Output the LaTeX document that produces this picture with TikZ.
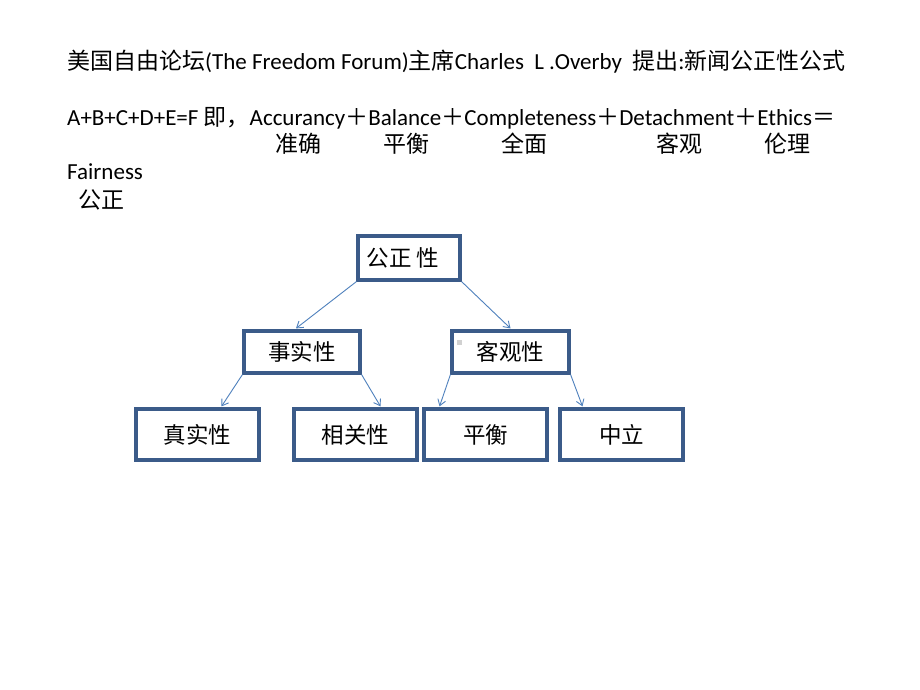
\documentclass[tikz,border=0pt]{standalone}
\usepackage{fontspec}
\setmainfont{Carlito}
\newfontfamily\cjkf{Noto Sans CJK SC}
\newcommand\zh[1]{{\cjkf #1}}
\usetikzlibrary{arrows.meta,calc}
\definecolor{boxline}{HTML}{3B5B89}
\definecolor{arrline}{HTML}{4F81BD}
\tikzset{
  hdr/.style={anchor=west,inner sep=0pt,font=\fontsize{23}{26}\selectfont},
  tbox/.style={draw=boxline,line width=3.2pt,fill=white,inner sep=0pt,
    font=\fontsize{22.5}{25}\selectfont\cjkf},
  arr/.style={draw=arrline,line width=0.9pt,-{Straight Barb[length=6pt,width=8pt]}}
}
\begin{document}
\begin{tikzpicture}[x=1pt,y=-1pt]
\path[use as bounding box,fill=white] (0,0) rectangle (920,690);
\node[hdr] (l1) at (67,62) {\zh{美国自由论坛}(The Freedom Forum)\zh{主席}Charles\ \ L .Overby\ \ \zh{提出}:\zh{新闻公正性公式}};
\node[hdr] (l2) at (67,118) {A+B+C+D+E=F \zh{即，}Accurancy\zh{＋}Balance\zh{＋}Completeness\zh{＋}Detachment\zh{＋}Ethics\zh{＝}};
\node[hdr] (c1) at (275,144) {\zh{准确}};
\node[hdr] (c2) at (383,144) {\zh{平衡}};
\node[hdr] (c3) at (501,144) {\zh{全面}};
\node[hdr] (c4) at (656,144) {\zh{客观}};
\node[hdr] (c5) at (764,144) {\zh{伦理}};
\node[hdr] (l4) at (67,172) {Fairness};
\node[hdr] (l5) at (78,200) {\zh{公正}};

\node[tbox,minimum width=102pt,minimum height=44pt] (top) at (409,258) {\hspace*{-12pt}公正 性};
\node[tbox,minimum width=116pt,minimum height=42pt] (fact) at (302,352) {事实性};
\node[tbox,minimum width=117pt,minimum height=42pt] (obj) at (510.5,352) {客观性};
\node[tbox,minimum width=123pt,minimum height=51pt] (true) at (197.5,434.5) {真实性};
\node[tbox,minimum width=123pt,minimum height=51pt] (rel) at (355.5,434.5) {相关性};
\node[tbox,minimum width=123pt,minimum height=51pt] (bal) at (485.5,434.5) {平衡};
\node[tbox,minimum width=123pt,minimum height=51pt] (neu) at (621.5,434.5) {中立};
\node[fill=black!18,minimum size=5pt,inner sep=0pt] (dot) at (459,342) {};

\draw[arr] (top.south west) -- ([xshift=-6pt,yshift=1pt]fact.north);
\draw[arr] (top.south east) -- ([yshift=1pt]obj.north);
\draw[arr] (fact.south west) -- ([xshift=24pt,yshift=1pt]true.north);
\draw[arr] (fact.south east) -- ([xshift=25pt,yshift=1pt]rel.north);
\draw[arr] (obj.south west) -- ([xshift=-46pt,yshift=1pt]bal.north);
\draw[arr] (obj.south east) -- ([xshift=-39pt,yshift=1pt]neu.north);
\end{tikzpicture}
\end{document}
